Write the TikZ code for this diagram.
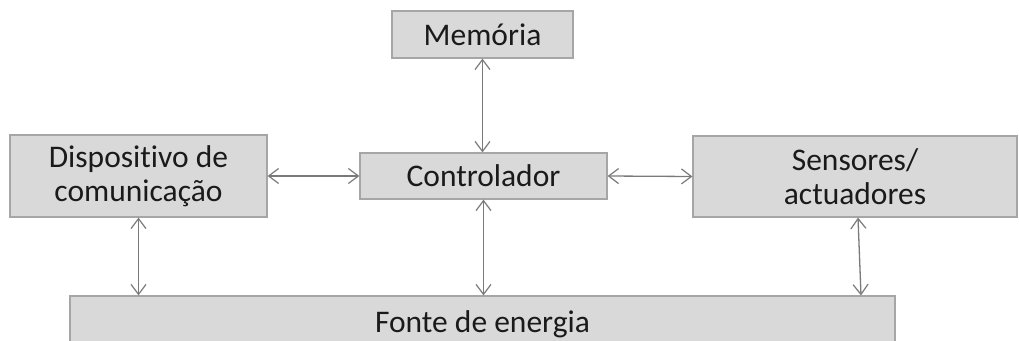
\documentclass[tikz,border=0pt]{standalone}
\usepackage{fontspec}
\setmainfont{Carlito}[Ligatures={NoCommon}]
\usetikzlibrary{arrows.meta,calc}
\definecolor{boxfill}{HTML}{D9D9D9}
\definecolor{boxline}{HTML}{A6A6A6}
\definecolor{arrline}{HTML}{7A7A7A}
\definecolor{txt}{HTML}{1A1A1A}
\begin{document}
\begin{tikzpicture}[x=1pt,y=-1pt,
  blockbox/.style={draw=boxline, fill=boxfill, line width=1.2pt, inner sep=0pt, align=center,
    text=txt, font=\fontsize{31.5}{34}\selectfont},
  link/.style={draw=arrline, line width=1.3pt, {Straight Barb[length=10pt,width=15pt,line width=1.2pt]}-{Straight Barb[length=10pt,width=15pt,line width=1.2pt]}}]
\useasboundingbox (0,0) rectangle (1019,340);
\begin{scope}
\clip (0,0) rectangle (1019,340);
\node[blockbox, minimum width=825, minimum height=56] (fonte) at (482.5,324) {Fonte de energia};
\end{scope}
\node[blockbox, minimum width=181, minimum height=47] (mem) at (482.5,34.5) {Memória};
\node[blockbox, minimum width=247, minimum height=46] (ctrl) at (483.5,176) {Controlador};
\node[blockbox, minimum width=257, minimum height=82] (disp) at (138.5,176) {Dispositivo de\\comunicação};
\node[blockbox, minimum width=324, minimum height=81] (sens) at (855,176.5) {Sensores/\\actuadores};
\coordinate (s1) at ($(sens.south)+(3,0)$);
\coordinate (s2) at ($(sens.south |- fonte.north)+(6,0)$);
\draw[link] (disp.east) -- (ctrl.west);
\draw[link] (ctrl.east) -- (sens.west);
\draw[link] (mem.south) -- (mem.south |- ctrl.north);
\draw[link] (ctrl.south) -- (ctrl.south |- fonte.north);
\draw[link] (disp.south) -- (disp.south |- fonte.north);
\draw[link] (s1) -- (s2);
\end{tikzpicture}
\end{document}
